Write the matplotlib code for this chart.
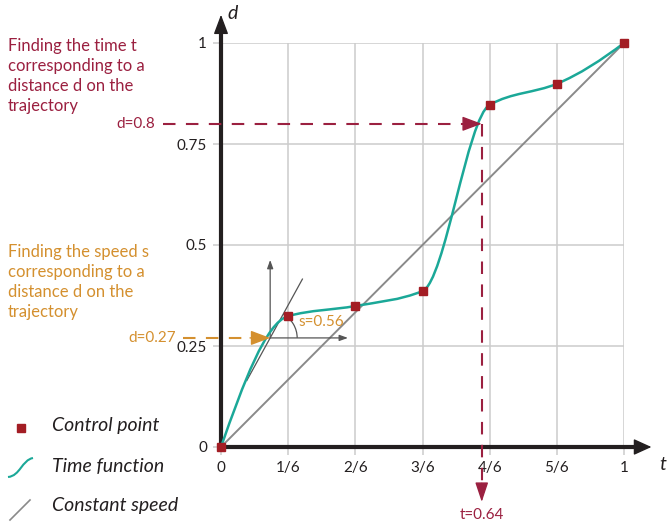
import numpy as np
import matplotlib.pyplot as plt
from matplotlib.path import Path
from matplotlib.patches import PathPatch, Arc

plt.rcParams['font.family'] = ['Lato', 'DejaVu Sans']

# control points of the time function
t_ctrl = [0, 1/6, 2/6, 3/6, 4/6, 5/6, 1]
d_ctrl = [0, 0.324, 0.349, 0.386, 0.847, 0.899, 1]

t_ticks = [0, 1/6, 2/6, 3/6, 4/6, 5/6, 1]
t_labels = ['0', '1/6', '2/6', '3/6', '4/6', '5/6', '1']
d_ticks = [0, 0.25, 0.5, 0.75, 1]
d_labels = ['0', '0.25', '0.5', '0.75', '1']

# lookups shown on the chart
d_lookup = 0.8
t_found = 0.647
t_found_label = 't=0.64'
d_speed = 0.27
t_speed = 0.122
s_slope = 1.82
s_label = 's=0.56'

RED = '#a31d24'
DRED = '#9b2040'
TEAL = '#1ba898'
ORANGE = '#d4902f'
INK = '#231f20'
GRID = '#cccccc'


def pchip_bezier(x, y):
    # monotone cubic (Fritsch-Carlson) turned into bezier segments
    x = np.asarray(x, float)
    y = np.asarray(y, float)
    h = np.diff(x)
    dk = np.diff(y) / h
    m = np.zeros_like(y)
    for i in range(1, len(x) - 1):
        if dk[i - 1] * dk[i] > 0:
            w1 = 2 * h[i] + h[i - 1]
            w2 = h[i] + 2 * h[i - 1]
            m[i] = (w1 + w2) / (w1 / dk[i - 1] + w2 / dk[i])
    m[0] = ((2 * h[0] + h[1]) * dk[0] - h[0] * dk[1]) / (h[0] + h[1])
    m[-1] = ((2 * h[-1] + h[-2]) * dk[-1] - h[-1] * dk[-2]) / (h[-1] + h[-2])
    verts = [(x[0], y[0])]
    codes = [Path.MOVETO]
    for i in range(len(h)):
        verts += [(x[i] + h[i] / 3, y[i] + m[i] * h[i] / 3),
                  (x[i + 1] - h[i] / 3, y[i + 1] - m[i + 1] * h[i] / 3),
                  (x[i + 1], y[i + 1])]
        codes += [Path.CURVE4] * 3
    return Path(verts, codes)


fig = plt.figure(figsize=(6.67, 5.29), dpi=100)
ax = fig.add_axes([221 / 667, 82 / 529, 403 / 667, 404 / 529])
ax.set_xlim(0, 1)
ax.set_ylim(0, 1)
for s in ax.spines.values():
    s.set_visible(False)
ax.set_xticks(t_ticks)
ax.set_xticklabels(t_labels)
ax.set_yticks(d_ticks)
ax.set_yticklabels(d_labels)
ax.grid(color=GRID, lw=1.1)
ax.tick_params(length=5.5, width=1.1, color=GRID, labelsize=11,
               labelcolor=INK, pad=4.5)
ax.set_axisbelow(True)

# axes with arrow heads
ax.plot([0, 1.03], [0, 0], color=INK, lw=3, clip_on=False, zorder=3,
        solid_capstyle='butt')
ax.plot([0, 0], [-0.004, 1.03], color=INK, lw=3, clip_on=False, zorder=3,
        solid_capstyle='butt')
ax.annotate('', xy=(1.068, 0), xytext=(1.02, 0), annotation_clip=False,
            arrowprops=dict(arrowstyle='-|>,head_length=1.1,head_width=0.5',
                            color=INK, lw=1, shrinkA=0, shrinkB=0), zorder=3)
ax.annotate('', xy=(0, 1.07), xytext=(0, 1.02), annotation_clip=False,
            arrowprops=dict(arrowstyle='-|>,head_length=1.2,head_width=0.45',
                            color=INK, lw=1, shrinkA=0, shrinkB=0), zorder=3)
ax.text(0.028, 1.073, 'd', fontsize=14, style='italic', color=INK,
        ha='center', va='center')
ax.text(1.095, -0.043, 't', fontsize=14, style='italic', color=INK,
        ha='center', va='center')

# constant speed and time function
ax.plot([0, 1], [0, 1], color='#8a8a8a', lw=1.4, zorder=4)
ax.add_patch(PathPatch(pchip_bezier(t_ctrl, d_ctrl), fill=False,
                       edgecolor=TEAL, lw=1.8, zorder=5))
ax.plot(t_ctrl, d_ctrl, ls='none', marker='s', ms=6, color=RED,
        clip_on=False, zorder=6)

# finding t for d=0.8
ax.plot([-0.144, t_found - 0.03], [d_lookup, d_lookup], color=DRED, lw=1.5,
        ls=(0, (6, 5)), clip_on=False, zorder=4)
ax.annotate('', xy=(t_found, d_lookup), xytext=(t_found - 0.05, d_lookup),
            annotation_clip=False,
            arrowprops=dict(arrowstyle='-|>,head_length=1.2,head_width=0.45',
                            color=DRED, lw=1, shrinkA=0, shrinkB=0), zorder=6)
ax.plot([t_found, t_found], [d_lookup, -0.1], color=DRED, lw=1.5,
        ls=(0, (6, 5)), clip_on=False, zorder=4)
ax.annotate('', xy=(t_found, -0.136), xytext=(t_found, -0.09),
            annotation_clip=False,
            arrowprops=dict(arrowstyle='-|>,head_length=1.2,head_width=0.4',
                            color=DRED, lw=1, shrinkA=0, shrinkB=0), zorder=6)
ax.text(-0.164, d_lookup, 'd=0.8', fontsize=11, color=DRED, ha='right',
        va='center')
ax.text(t_found, -0.168, t_found_label, fontsize=11, color=DRED,
        ha='center', va='center')

# finding the speed for d=0.27
ax.plot([-0.094, t_speed - 0.03], [d_speed, d_speed], color=ORANGE, lw=1.5,
        ls=(0, (6, 5)), clip_on=False, zorder=4)
ax.annotate('', xy=(t_speed, d_speed), xytext=(t_speed - 0.05, d_speed),
            annotation_clip=False,
            arrowprops=dict(arrowstyle='-|>,head_length=1.2,head_width=0.45',
                            color=ORANGE, lw=1, shrinkA=0, shrinkB=0), zorder=6)
ax.text(-0.112, d_speed, 'd=0.27', fontsize=11, color=ORANGE, ha='right',
        va='center')
ax.annotate('', xy=(t_speed, 0.463), xytext=(t_speed, d_speed),
            arrowprops=dict(arrowstyle='-|>,head_length=0.5,head_width=0.18',
                            color='#555555', lw=0.9, shrinkA=0, shrinkB=0),
            zorder=4)
ax.annotate('', xy=(0.315, d_speed), xytext=(t_speed, d_speed),
            arrowprops=dict(arrowstyle='-|>,head_length=0.5,head_width=0.18',
                            color='#555555', lw=0.9, shrinkA=0, shrinkB=0),
            zorder=4)
tx = np.array([t_speed - 0.058, t_speed + 0.08])
ax.plot(tx, d_speed + s_slope * (tx - t_speed), color='#555555', lw=0.9,
        zorder=4)
ax.add_patch(Arc((t_speed, d_speed), 2 * 27 / 403, 2 * 27 / 404, theta1=0,
                 theta2=np.degrees(np.arctan(s_slope)), color='#555555',
                 lw=0.9, zorder=4))
ax.text(0.191, 0.309, s_label, fontsize=11, color=ORANGE, ha='left',
        va='center', zorder=7)

# explanations on the left
fig.text(8 / 667, 1 - 38 / 529,
         'Finding the time t\ncorresponding to a\ndistance d on the\ntrajectory',
         fontsize=12, color=DRED, ha='left', va='top', linespacing=1.3)
fig.text(8 / 667, 1 - 244 / 529,
         'Finding the speed s\ncorresponding to a\ndistance d on the\ntrajectory',
         fontsize=12, color=ORANGE, ha='left', va='top', linespacing=1.3)

# legend drawn in pixel space
lg = fig.add_axes([0, 0, 1, 1], facecolor='none')
lg.set_xlim(0, 667)
lg.set_ylim(529, 0)
lg.axis('off')
lg.plot([21], [428], marker='s', ms=6, color=RED, ls='none')
lg.add_patch(PathPatch(Path([(8, 477), (20, 476), (22, 460), (33, 458)],
                            [Path.MOVETO, Path.CURVE4, Path.CURVE4, Path.CURVE4]),
                       fill=False, edgecolor=TEAL, lw=1.5))
lg.plot([10, 30], [520, 500], color='#8a8a8a', lw=1.2)
for yy, txt in zip([426, 467, 506], ['Control point', 'Time function',
                                     'Constant speed']):
    lg.text(52, yy, txt, fontsize=14, style='italic', color=INK, ha='left',
            va='center')

fig.savefig('out.png', dpi=100)
